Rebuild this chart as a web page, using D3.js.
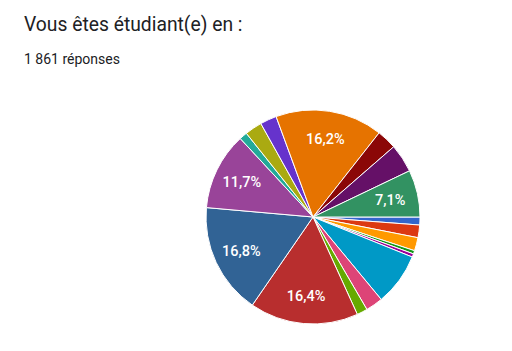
<!DOCTYPE html>
<html>
<head>
<meta charset="utf-8">
<script src="https://cdn.jsdelivr.net/npm/d3@7"></script>
<style>
  body { margin: 0; background: #fff; }
</style>
</head>
<body>
<svg id="chart" width="512" height="351"></svg>
<script>
// parts in %, read clockwise from 3 o'clock
const categories = ["R1", "R2", "R3", "R4", "R5", "R6", "R7", "R8", "R9",
    "R10", "R11", "R12", "R13", "R14", "R15", "R16", "R17", "R18"];
const values = [1.2, 1.9, 2.0, 0.5, 0.5, 7.9, 2.6, 1.6, 16.4,
    16.8, 11.7, 1.2, 2.6, 2.5, 16.2, 3.0, 4.3, 7.1];
const sliceLabels = ["", "", "", "", "", "", "", "", "16,4%",
    "16,8%", "11,7%", "", "", "", "16,2%", "", "", "7,1%"];
const colors = ["#3366cc", "#dc3912", "#ff9900", "#109618", "#990099", "#0099c6",
    "#dd4477", "#66aa00", "#b82e2e", "#316395", "#994499", "#22aa99",
    "#aaaa11", "#6633cc", "#e67300", "#8b0707", "#651067", "#329262"];

const cx = 313, cy = 217, r = 107;

const svg = d3.select("#chart");

svg.append("text")
    .attr("x", 24).attr("y", 31)
    .attr("font-family", "Roboto, sans-serif")
    .attr("font-size", "19.3px")
    .attr("fill", "#202124")
    .text("Vous êtes étudiant(e) en :");

svg.append("text")
    .attr("x", 24).attr("y", 64)
    .attr("font-family", "Roboto, sans-serif")
    .attr("font-size", "14px")
    .attr("fill", "#202124")
    .text("1 861 réponses");

const data = categories.map((c, i) => ({ cat: c, value: values[i], label: sliceLabels[i], color: colors[i] }));

// d3 angles start at 12 o'clock, the chart starts at 3 o'clock
const pie = d3.pie().value(d => d.value).sort(null)
    .startAngle(Math.PI / 2).endAngle(Math.PI / 2 + 2 * Math.PI);

const arc = d3.arc().innerRadius(0).outerRadius(r);
const labelArc = d3.arc().innerRadius(r * 0.74).outerRadius(r * 0.74);

const g = svg.append("g").attr("transform", `translate(${cx},${cy})`);

const arcs = pie(data);

g.selectAll("path")
    .data(arcs)
    .enter()
    .append("path")
    .attr("d", arc)
    .attr("fill", d => d.data.color)
    .attr("stroke", "#fff")
    .attr("stroke-width", 1);

g.selectAll("text")
    .data(arcs.filter(d => d.data.label))
    .enter()
    .append("text")
    .attr("transform", d => `translate(${labelArc.centroid(d)})`)
    .attr("text-anchor", "middle")
    .attr("dy", "0.35em")
    .attr("font-family", "Roboto, sans-serif")
    .attr("font-size", "14.5px")
    .attr("font-weight", "500")
    .attr("fill", "#fff")
    .text(d => d.data.label);
</script>
</body>
</html>
